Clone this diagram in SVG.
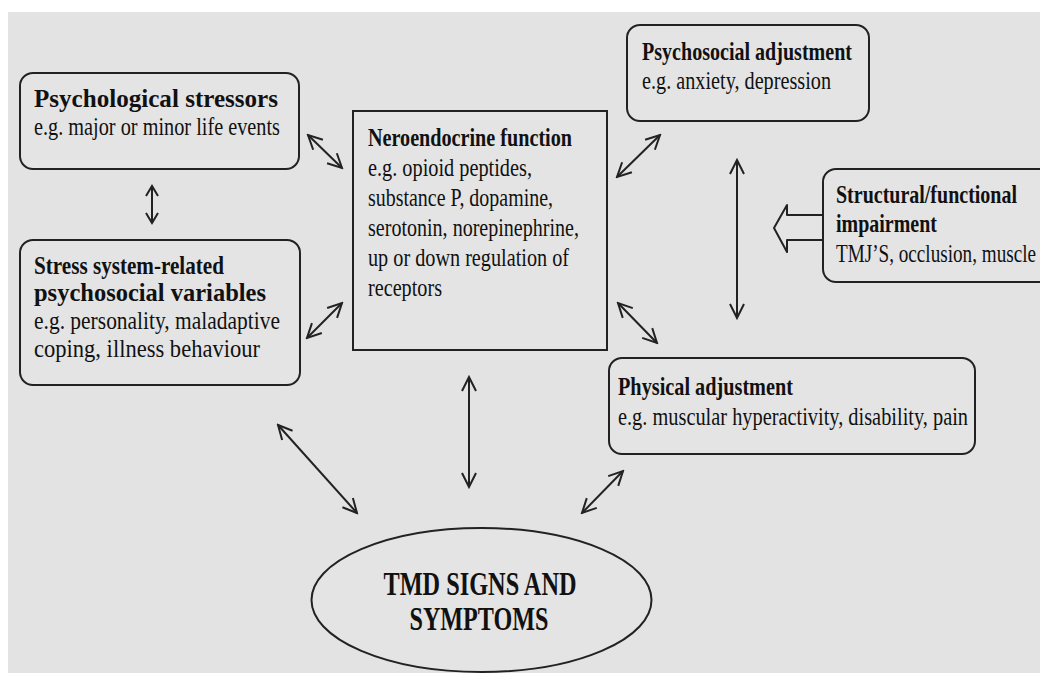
<svg xmlns="http://www.w3.org/2000/svg" width="1040" height="673" viewBox="0 0 1040 673">
<defs>
<style>
.box{fill:#e4e4e4;stroke:#222;stroke-width:2}
.t{font-family:"Liberation Serif","Times New Roman",serif;font-size:25px;fill:#111}
.b{font-weight:bold}
.big{font-family:"Liberation Serif","Times New Roman",serif;font-size:34px;font-weight:bold;fill:#111}
.ln{stroke:#222;stroke-width:2;fill:none}
</style>
<marker id="ah" viewBox="-16 -9 18 18" refX="0" refY="0" markerWidth="18" markerHeight="18" markerUnits="userSpaceOnUse" orient="auto-start-reverse">
<path d="M-14,-7 L0,0 L-14,7" fill="none" stroke="#222" stroke-width="2"/>
</marker>
<marker id="ahs" viewBox="-12 -8 14 16" refX="0" refY="0" markerWidth="14" markerHeight="16" markerUnits="userSpaceOnUse" orient="auto-start-reverse">
<path d="M-10,-6 L0,0 L-10,6" fill="none" stroke="#222" stroke-width="2"/>
</marker>
</defs>
<rect x="0" y="0" width="1040" height="673" fill="#ffffff"/>
<rect x="8" y="12" width="1032" height="661" fill="#e3e3e3"/>

<g id="psychological-stressors">
<rect class="box" x="20" y="73" width="279" height="96" rx="13"/>
<text class="t b" x="34" y="107" textLength="244" lengthAdjust="spacingAndGlyphs">Psychological stressors</text>
<text class="t" x="34" y="135" textLength="246" lengthAdjust="spacingAndGlyphs">e.g. major or minor life events</text>
</g>

<g id="stress-variables">
<rect class="box" x="20" y="240" width="280" height="145" rx="13"/>
<text class="t b" x="34" y="274" textLength="190" lengthAdjust="spacingAndGlyphs">Stress system-related</text>
<text class="t b" x="34" y="301" textLength="232" lengthAdjust="spacingAndGlyphs">psychosocial variables</text>
<text class="t" x="34" y="329" textLength="246" lengthAdjust="spacingAndGlyphs">e.g. personality, maladaptive</text>
<text class="t" x="34" y="357" textLength="226" lengthAdjust="spacingAndGlyphs">coping, illness behaviour</text>
</g>

<g id="neuroendocrine">
<rect class="box" x="353" y="111" width="254" height="239"/>
<text class="t b" x="368" y="146" textLength="204" lengthAdjust="spacingAndGlyphs">Neroendocrine function</text>
<text class="t" x="368" y="176" textLength="164" lengthAdjust="spacingAndGlyphs">e.g. opioid peptides,</text>
<text class="t" x="368" y="206" textLength="185" lengthAdjust="spacingAndGlyphs">substance P, dopamine,</text>
<text class="t" x="368" y="236" textLength="211" lengthAdjust="spacingAndGlyphs">serotonin, norepinephrine,</text>
<text class="t" x="368" y="266" textLength="201" lengthAdjust="spacingAndGlyphs">up or down regulation of</text>
<text class="t" x="368" y="296" textLength="74" lengthAdjust="spacingAndGlyphs">receptors</text>
</g>

<g id="psychosocial-adjustment">
<rect class="box" x="627" y="25" width="242" height="96" rx="13"/>
<text class="t b" x="642" y="60" textLength="210" lengthAdjust="spacingAndGlyphs">Psychosocial adjustment</text>
<text class="t" x="642" y="89" textLength="189" lengthAdjust="spacingAndGlyphs">e.g. anxiety, depression</text>
</g>

<g id="structural-impairment">
<rect x="823" y="169" width="217" height="113" fill="#e4e4e4"/>
<path d="M1040,169 H836 A13,13 0 0 0 823,182 V269 A13,13 0 0 0 836,282 H1040" fill="none" stroke="#222" stroke-width="2"/>
<text class="t b" x="836" y="203" textLength="181" lengthAdjust="spacingAndGlyphs">Structural/functional</text>
<text class="t b" x="836" y="232" textLength="101" lengthAdjust="spacingAndGlyphs">impairment</text>
<text class="t" x="836" y="262" textLength="200" lengthAdjust="spacingAndGlyphs">TMJ’S, occlusion, muscle</text>
</g>

<g id="physical-adjustment">
<rect class="box" x="609" y="358" width="366" height="96" rx="13"/>
<text class="t b" x="618" y="395" textLength="175" lengthAdjust="spacingAndGlyphs">Physical adjustment</text>
<text class="t" x="618" y="425" textLength="350" lengthAdjust="spacingAndGlyphs">e.g. muscular hyperactivity, disability, pain</text>
</g>

<g id="tmd">
<ellipse class="box" cx="481.5" cy="600" rx="170" ry="72"/>
<text class="big" x="480" y="595" text-anchor="middle" textLength="193" lengthAdjust="spacingAndGlyphs">TMD SIGNS AND</text>
<text class="big" x="479" y="630" text-anchor="middle" textLength="139" lengthAdjust="spacingAndGlyphs">SYMPTOMS</text>
</g>

<g id="connectors">
<line class="ln" x1="308" y1="135" x2="342" y2="168" marker-start="url(#ah)" marker-end="url(#ah)"/>
<line class="ln" x1="307" y1="338" x2="342" y2="303" marker-start="url(#ah)" marker-end="url(#ah)"/>
<line class="ln" x1="152" y1="186" x2="152" y2="223" marker-start="url(#ahs)" marker-end="url(#ahs)"/>
<line class="ln" x1="617" y1="177" x2="660" y2="135" marker-start="url(#ah)" marker-end="url(#ah)"/>
<line class="ln" x1="737" y1="160" x2="737" y2="318" marker-start="url(#ah)" marker-end="url(#ah)"/>
<line class="ln" x1="618" y1="303" x2="657" y2="343" marker-start="url(#ah)" marker-end="url(#ah)"/>
<line class="ln" x1="278" y1="425" x2="357" y2="513" marker-start="url(#ah)" marker-end="url(#ah)"/>
<line class="ln" x1="469" y1="377" x2="469" y2="487" marker-start="url(#ah)" marker-end="url(#ah)"/>
<line class="ln" x1="582" y1="513" x2="623" y2="471" marker-start="url(#ah)" marker-end="url(#ah)"/>
<polygon points="823,215 787,215 787,205 774,228 787,252 787,240 823,240" fill="#e4e4e4" stroke="#222" stroke-width="2" stroke-linejoin="round"/>
</g>
</svg>
